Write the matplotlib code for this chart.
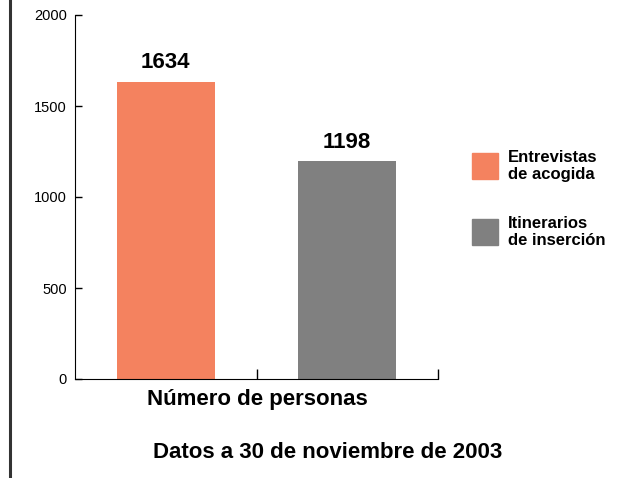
import matplotlib.pyplot as plt
from matplotlib.patches import Rectangle
from matplotlib.lines import Line2D

# chart data
categories = ["Entrevistas\nde acogida", "Itinerarios\nde inserción"]
values = [1634, 1198]
colors = ["#F4825F", "#808080"]
y_ticks = [0, 500, 1000, 1500, 2000]

plt.rcParams['font.family'] = ['Liberation Sans', 'DejaVu Sans']

fig = plt.figure(figsize=(6.32, 4.78), dpi=100)
ax = fig.add_axes([75 / 632, 99 / 478, 363 / 632, 364 / 478])

positions = list(range(len(values)))
bars = ax.bar(positions, values, width=0.54, color=colors)

# value labels above the bars
for x, v in zip(positions, values):
    ax.annotate(str(v), (x, v), xytext=(0, 9.5), textcoords='offset points',
                ha='center', va='baseline', fontsize=16, fontweight='bold')

ax.set_xlim(-0.5, len(values) - 0.5)
ax.set_ylim(0, 2000)
ax.set_yticks(y_ticks)
ax.set_yticklabels([str(t) for t in y_ticks], fontsize=10.5)
ax.set_xticks([p + 0.5 for p in positions])
ax.set_xticklabels([])
ax.tick_params(axis='y', direction='in', length=5, width=1, pad=6)
ax.tick_params(axis='x', direction='in', length=7, width=1)
ax.spines['top'].set_visible(False)
ax.spines['right'].set_visible(False)

fig.text(257 / 632, 1 - 405 / 478, "Número de personas", ha='center',
         va='baseline', fontsize=16, fontweight='bold')
fig.text(328 / 632, 1 - 458 / 478, "Datos a 30 de noviembre de 2003",
         ha='center', va='baseline', fontsize=16, fontweight='bold')

# legend drawn by hand, squares plus two-line labels
leg_tops = [153, 219]
for top, c, lab in zip(leg_tops, colors, categories):
    fig.patches.append(Rectangle((472 / 632, 1 - (top + 26) / 478), 26 / 632, 26 / 478,
                                 transform=fig.transFigure, color=c))
    fig.text(508 / 632, 1 - (top + 13) / 478, lab, ha='left', va='center',
             fontsize=12, fontweight='bold', linespacing=1.2)

# border line on the left
fig.lines.append(Line2D([9.5 / 632, 9.5 / 632], [0, 1], transform=fig.transFigure,
                        color='#333333', linewidth=2.2))

fig.savefig("out.png", dpi=100)
